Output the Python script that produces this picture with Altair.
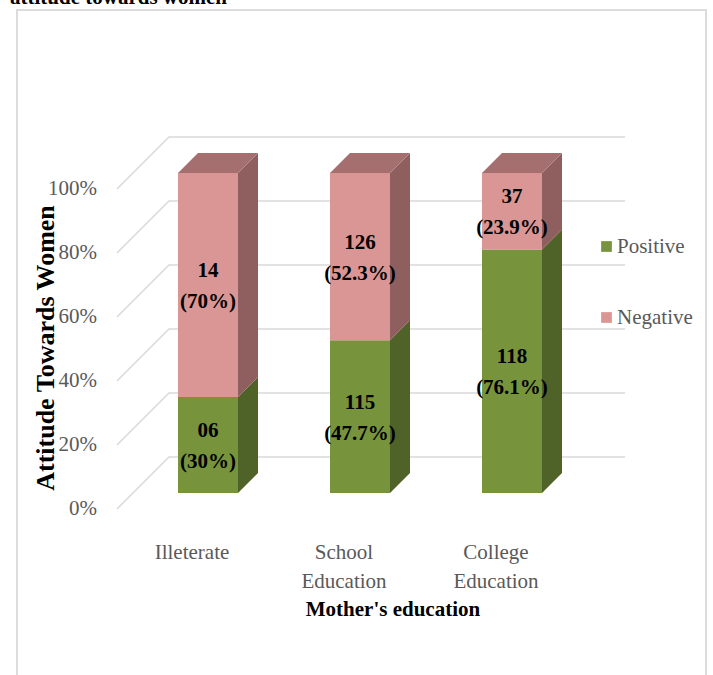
import altair as alt
import pandas as pd

# ---------------- data ----------------
categories = ["Illeterate", "School\nEducation", "College\nEducation"]
series = ["Positive", "Negative"]
positive_pct = [30.0, 47.7, 76.1]
negative_pct = [70.0, 52.3, 23.9]
positive_n = ["06", "115", "118"]
negative_n = ["14", "126", "37"]
y_ticks = [0, 20, 40, 60, 80, 100]
y_tick_labels = ["0%", "20%", "40%", "60%", "80%", "100%"]

top_title = ["attitude towards women"]
x_title = ["Mother's education"]
y_title = ["Attitude Towards Women"]

# ---------------- pseudo-3D projection ----------------
CAT_PX = 152.0   # pixels per category step
PCT_PX = 3.2     # pixels per percent


def dx(p):
    return p / CAT_PX


def dy(p):
    return p / PCT_PX


BAR_HALF = 30
D_FRONT, D_BACK, D_WALL = 16, 36, 52
FLOOR_LEFT, GRID_RIGHT = -75, 433

FONT = "Liberation Serif"
GREY = "#595959"

X_SCALE = alt.Scale(domain=[-175 / 152, 514 / 152], nice=False, zero=False)
Y_SCALE = alt.Scale(domain=[-51.875, 155.9375], nice=False, zero=False)

front_rows, side_rows, top_rows, label_rows, cat_rows = [], [], [], [], []
for i, cat in enumerate(categories):
    cat_rows.append({"i": i, "cat": cat})
    stacks = [
        ("Positive", 0.0, positive_pct[i], positive_n[i], positive_pct[i]),
        ("Negative", positive_pct[i], positive_pct[i] + negative_pct[i], negative_n[i], negative_pct[i]),
    ]
    for s, v0, v1, n, p in stacks:
        seg = f"{i}-{s}"
        front_rows.append({
            "series": s,
            "x": i + dx(D_FRONT - BAR_HALF), "x2": i + dx(D_FRONT + BAR_HALF),
            "y": v0 + dy(D_FRONT), "y2": v1 + dy(D_FRONT),
        })
        for d in (D_FRONT, D_BACK):
            side_rows.append({
                "seg": seg, "face": f"{s} side",
                "x": i + dx(d + BAR_HALF),
                "y": v1 + dy(d), "y2": v0 + dy(d),
            })
        label_rows.append({
            "x": i + dx(D_FRONT), "y": (v0 + v1) / 2 + dy(D_FRONT),
            "txt": f"{n}\n({p:g}%)",
        })
    vt = positive_pct[i] + negative_pct[i]
    for d in (D_FRONT, D_BACK):
        top_rows.append({
            "seg": f"{i}-top", "face": "Negative top",
            "y": vt + dy(d),
            "x": i + dx(d - BAR_HALF), "x2": i + dx(d + BAR_HALF),
        })

grid_rows = []
for v in y_ticks:
    pts = [(FLOOR_LEFT, 0), (FLOOR_LEFT + D_WALL, D_WALL), (GRID_RIGHT, D_WALL)]
    for k, (px, dp) in enumerate(pts):
        grid_rows.append({"lvl": v, "k": k, "x": dx(px), "y": v + dy(dp)})

front_df = pd.DataFrame(front_rows)
side_df = pd.DataFrame(side_rows)
top_df = pd.DataFrame(top_rows)
label_df = pd.DataFrame(label_rows)
cat_df = pd.DataFrame(cat_rows)
grid_df = pd.DataFrame(grid_rows)
tick_df = pd.DataFrame({"v": y_ticks, "lab": y_tick_labels})

FACE_SCALE = alt.Scale(domain=["Positive side", "Negative side", "Negative top"],
                       range=["#4F6228", "#8F5E5E", "#A56F70"])

frame = alt.Chart(pd.DataFrame({"k": [0]})).mark_rect(
    filled=False, stroke="#DCDCDC", strokeWidth=2
).encode(x=alt.value(0), x2=alt.value(689), y=alt.value(0), y2=alt.value(720))

grid = alt.Chart(grid_df).mark_line(color="#D9D9D9", strokeWidth=1.5).encode(
    x=alt.X("x:Q", scale=X_SCALE, axis=None),
    y=alt.Y("y:Q", scale=Y_SCALE, axis=None),
    detail="lvl:N",
    order="k:Q",
)

ticks = alt.Chart(tick_df).mark_text(
    font=FONT, fontSize=21, color=GREY, align="right", baseline="middle"
).encode(
    x=alt.value(80),
    y=alt.Y("v:Q", scale=Y_SCALE, axis=None),
    text="lab:N",
)

side = alt.Chart(side_df).mark_area(orient="vertical").encode(
    x=alt.X("x:Q", scale=X_SCALE, axis=None),
    y=alt.Y("y:Q", scale=Y_SCALE, axis=None, stack=None),
    y2="y2:Q",
    fill=alt.Fill("face:N", scale=FACE_SCALE, legend=None),
    detail="seg:N",
)

top = alt.Chart(top_df).mark_area(orient="horizontal").encode(
    y=alt.Y("y:Q", scale=Y_SCALE, axis=None),
    x=alt.X("x:Q", scale=X_SCALE, axis=None, stack=None),
    x2="x2:Q",
    fill=alt.Fill("face:N", scale=FACE_SCALE, legend=None),
    detail="seg:N",
)

front = alt.Chart(front_df).mark_rect().encode(
    x=alt.X("x:Q", scale=X_SCALE, axis=None),
    x2="x2:Q",
    y=alt.Y("y:Q", scale=Y_SCALE, axis=None),
    y2="y2:Q",
    color=alt.Color("series:N", scale=alt.Scale(domain=series, range=["#77933C", "#D99694"]),
                    legend=alt.Legend(
                        title=None, orient="none", legendX=579, legendY=226,
                        symbolType="square", symbolSize=115, symbolStrokeWidth=0,
                        labelFont=FONT, labelFontSize=21, labelColor=GREY,
                        rowPadding=49, labelOffset=0, padding=0)),
)

labels = alt.Chart(label_df).mark_text(
    font=FONT, fontSize=21, fontWeight="bold", color="black",
    lineBreak="\n", lineHeight=31, baseline="middle", align="center", dy=-14
).encode(
    x=alt.X("x:Q", scale=X_SCALE, axis=None),
    y=alt.Y("y:Q", scale=Y_SCALE, axis=None),
    text="txt:N",
)

cats = alt.Chart(cat_df).mark_text(
    font=FONT, fontSize=21, color=GREY, lineBreak="\n", lineHeight=29,
    baseline="alphabetic", align="center"
).encode(
    x=alt.X("i:Q", scale=X_SCALE, axis=None),
    y=alt.value(548.5),
    text="cat:N",
)

xt = alt.Chart(pd.DataFrame({"t": x_title})).mark_text(
    font=FONT, fontSize=21, fontWeight="bold", color="black", align="center", baseline="middle"
).encode(x=alt.value(376), y=alt.value(600), text="t:N")

yt = alt.Chart(pd.DataFrame({"t": y_title})).mark_text(
    font=FONT, fontSize=26, fontWeight="bold", color="black", align="center",
    baseline="middle", angle=270
).encode(x=alt.value(29), y=alt.value(338), text="t:N")

tt = alt.Chart(pd.DataFrame({"t": top_title})).mark_text(
    font=FONT, fontSize=21, fontWeight="bold", color="black", align="left", baseline="alphabetic"
).encode(x=alt.value(-7), y=alt.value(-6), text="t:N")

chart = alt.layer(frame, grid, ticks, side, top, front, labels, cats, xt, yt, tt).properties(
    width=689, height=665,
    padding={"left": 17, "top": 10, "right": 7, "bottom": 0},
    autosize=alt.AutoSizeParams(type="none"),
).configure_view(stroke=None).configure(background="white")

chart.save("out.html", embed_options={"renderer": "svg", "actions": False})
